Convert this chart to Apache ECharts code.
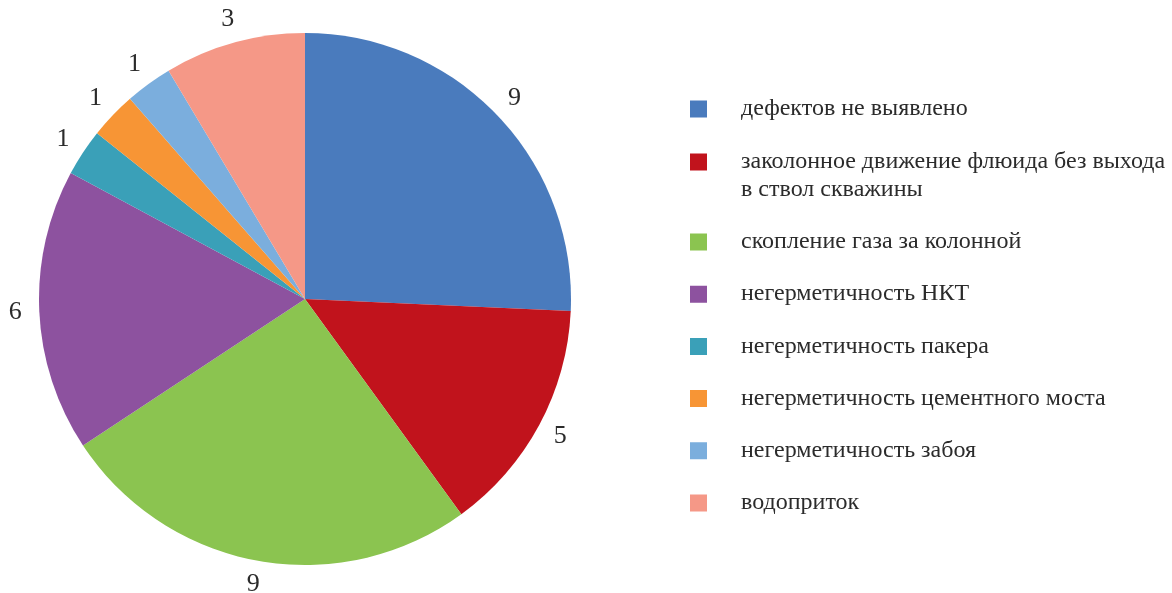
<!DOCTYPE html>
<html>
<head>
<meta charset="utf-8">
<script src="https://cdn.jsdelivr.net/npm/echarts@6/dist/echarts.min.js"></script>
<style>
  html, body { margin: 0; padding: 0; background: #ffffff; }
  #chart { width: 1172px; height: 593px; }
</style>
</head>
<body>
<div id="chart"></div>
<script>
// Causes found during well inspections (number of wells)
const categories = [
  'дефектов не выявлено',
  'заколонное движение флюида без выхода\nв ствол скважины',
  'скопление газа за колонной',
  'негерметичность НКТ',
  'негерметичность пакера',
  'негерметичность цементного моста',
  'негерметичность забоя',
  'водоприток'
];
const counts = [9, 5, 9, 6, 1, 1, 1, 3];
const colors = ['#4A7BBD', '#C1131C', '#8BC450', '#8D529F', '#3AA0B8', '#F79535', '#7BAEDD', '#F59887'];

const FONT = '"Liberation Serif", "Times New Roman", serif';
const TEXT_COLOR = '#2b2b2b';

// Legend marker: a 17px square, with the path bounds widened so the text sits further right
const ICON_ONE_LINE = 'path://M0,0H17V17H0Z M46,0L46,17';
const ICON_TWO_LINE = 'path://M0,0H17V17H0Z M46,0L46,45';

const legendText = { fontFamily: FONT, fontSize: 24, lineHeight: 28, color: TEXT_COLOR };
const legendBase = {
  orient: 'vertical',
  left: 690,
  padding: 0,
  itemWidth: 46,
  itemHeight: 17,
  icon: ICON_ONE_LINE,
  selectedMode: false,
  textStyle: legendText
};

const sliceData = categories.map((name, i) => ({ name: name, value: counts[i] }));
const pieCenter = [305, 299];

const chart = echarts.init(document.getElementById('chart'), null, { renderer: 'canvas' });
chart.setOption({
  animation: false,
  color: colors,
  legend: [
    Object.assign({}, legendBase, { data: categories.slice(0, 1), top: 95 }),
    Object.assign({}, legendBase, { data: categories.slice(1, 2), top: 148, itemHeight: 45, icon: ICON_TWO_LINE }),
    Object.assign({}, legendBase, { data: categories.slice(2), top: 228, itemGap: 24.2 })
  ],
  series: [
    {
      // the pie itself
      type: 'pie',
      center: pieCenter,
      radius: [0, 266],
      startAngle: 90,
      clockwise: true,
      itemStyle: { borderWidth: 0 },
      label: { show: false },
      labelLine: { show: false },
      emphasis: { disabled: true },
      data: sliceData
    },
    {
      // invisible ring carrying the value labels, centred just outside each slice
      type: 'pie',
      center: pieCenter,
      radius: [276, 298],
      startAngle: 90,
      clockwise: true,
      silent: true,
      itemStyle: { color: 'rgba(0,0,0,0)', borderWidth: 0 },
      label: {
        show: true,
        position: 'inside',
        formatter: '{c}',
        fontFamily: FONT,
        fontSize: 26,
        color: TEXT_COLOR
      },
      labelLine: { show: false },
      emphasis: { disabled: true },
      data: sliceData
    }
  ]
});
</script>
</body>
</html>
